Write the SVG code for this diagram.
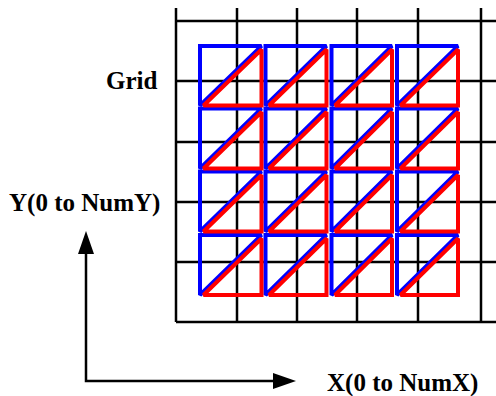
<svg xmlns="http://www.w3.org/2000/svg" width="496" height="396" viewBox="0 0 496 396">
<style>
.g{stroke:#000;stroke-width:2.5;fill:none}
.b{stroke:#0000ff;stroke-width:4;fill:none;stroke-linejoin:miter;stroke-miterlimit:2}
.r{stroke:#ff0000;stroke-width:4;fill:none;stroke-linejoin:miter;stroke-miterlimit:2}
.t{font-family:"Liberation Serif","Times New Roman",serif;font-weight:bold;font-size:25px;fill:#000}
.ax{stroke:#000;stroke-width:2.5;fill:none}
</style>
<defs>
<marker id="ah" markerUnits="userSpaceOnUse" markerWidth="23" markerHeight="16" refX="0" refY="8" orient="auto-start-reverse" viewBox="0 0 23 16">
<path d="M0,0 L23,8 L0,16 Z" fill="#000"/>
</marker>
</defs>
<g id="grid">
<path class="g" d="M176,8V322M237,8V322M297,8V322M357,8V322M418,8V322M481,8V322"/>
<path class="g" d="M176,21H496M176,81H496M176,142H496M176,202H496M176,262H496M176,322H496"/>
</g>
<g id="mesh">
<path class="b" d="M200,105.5V46H261.5ZM265.5,105.5V46H326.5ZM331.5,105.5V46H392ZM397,105.5V46H458Z"/>
<path class="b" d="M200,168.5V108.5H261.5ZM265.5,168.5V108.5H326.5ZM331.5,168.5V108.5H392ZM397,168.5V108.5H458Z"/>
<path class="b" d="M200,231.5V171.5H261.5ZM265.5,231.5V171.5H326.5ZM331.5,231.5V171.5H392ZM397,231.5V171.5H458Z"/>
<path class="b" d="M200,295V235H261.5ZM265.5,295V235H326.5ZM331.5,295V235H392ZM397,295V235H458Z"/>
<path class="r" d="M203.5,105.5H261.5V49.5ZM269,105.5H326.5V49.5ZM335,105.5H392V49.5ZM400.5,105.5H458V49.5Z"/>
<path class="r" d="M203.5,168.5H261.5V112ZM269,168.5H326.5V112ZM335,168.5H392V112ZM400.5,168.5H458V112Z"/>
<path class="r" d="M203.5,231.5H261.5V175ZM269,231.5H326.5V175ZM335,231.5H392V175ZM400.5,231.5H458V175Z"/>
<path class="r" d="M203.5,295H261.5V238.5ZM269,295H326.5V238.5ZM335,295H392V238.5ZM400.5,295H458V238.5Z"/>
</g>
<g id="connectors">
<path class="ax" d="M86,254V381H273" marker-start="url(#ah)" marker-end="url(#ah)"/>
</g>
<g id="labels">
<text class="t" x="106" y="89">Grid</text>
<text class="t" x="9" y="211">Y(0 to NumY)</text>
<text class="t" x="327" y="391">X(0 to NumX)</text>
</g>
</svg>
